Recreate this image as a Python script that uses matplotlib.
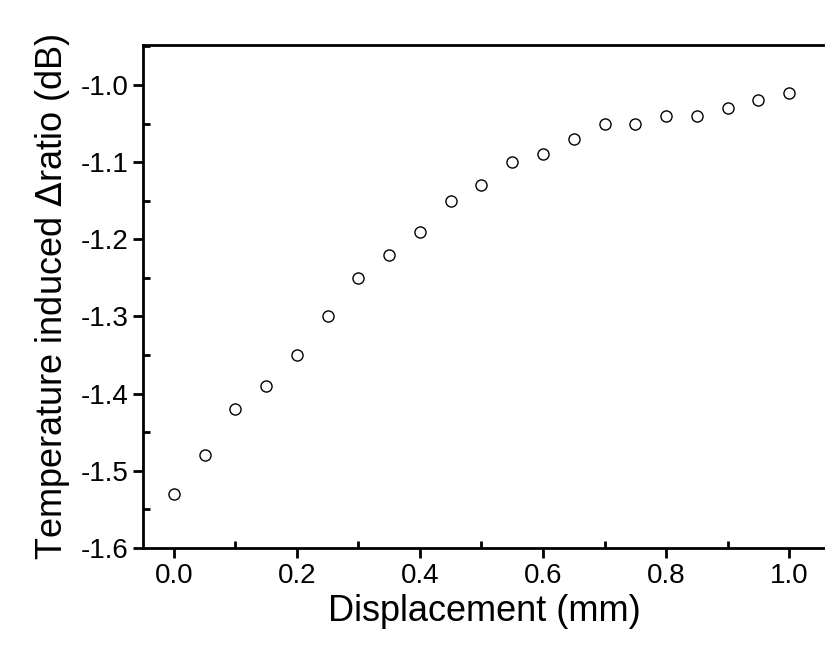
import numpy as np
import matplotlib
matplotlib.use('Agg')
import matplotlib.pyplot as plt
from matplotlib.ticker import MultipleLocator

plt.rcParams['font.family'] = ['Liberation Sans', 'DejaVu Sans']
plt.rcParams['axes.unicode_minus'] = False

# dados
deslocamento = np.array([0.0, 0.05, 0.1, 0.15, 0.2, 0.25, 0.3, 0.35, 0.4, 0.45, 0.5,
                         0.55, 0.6, 0.65, 0.7, 0.75, 0.8, 0.85, 0.9, 0.95, 1.0])
razao = np.array([-1.53, -1.48, -1.42, -1.39, -1.35, -1.30, -1.25, -1.22, -1.19, -1.15, -1.13,
                  -1.10, -1.09, -1.07, -1.05, -1.05, -1.04, -1.04, -1.03, -1.02, -1.01])

fig = plt.figure(figsize=(8.25, 6.5), dpi=100)
ax = fig.add_axes([0.1733, 0.157, 0.828, 0.774])
ax.plot(deslocamento, razao, 'o', mfc='none', mec='black', ms=8, mew=1)

ax.set_xlim(-0.05, 1.06)
ax.set_ylim(-1.6, -0.948)
ax.xaxis.set_major_locator(MultipleLocator(0.2))
ax.xaxis.set_minor_locator(MultipleLocator(0.1))
ax.yaxis.set_major_locator(MultipleLocator(0.1))
ax.yaxis.set_minor_locator(MultipleLocator(0.05))
ax.tick_params(which='major', direction='out', length=7, width=2, labelsize=20)
ax.tick_params(which='minor', direction='in', length=5, width=2)
for s in ax.spines.values():
    s.set_linewidth(2)
ax.spines['right'].set_visible(False)
ax.set_xlabel('Displacement (mm)', fontsize=26, labelpad=4)
ax.set_ylabel('Temperature induced $\\Delta$ratio (dB)', fontsize=26, labelpad=6)

fig.savefig('out.png', dpi=100)
